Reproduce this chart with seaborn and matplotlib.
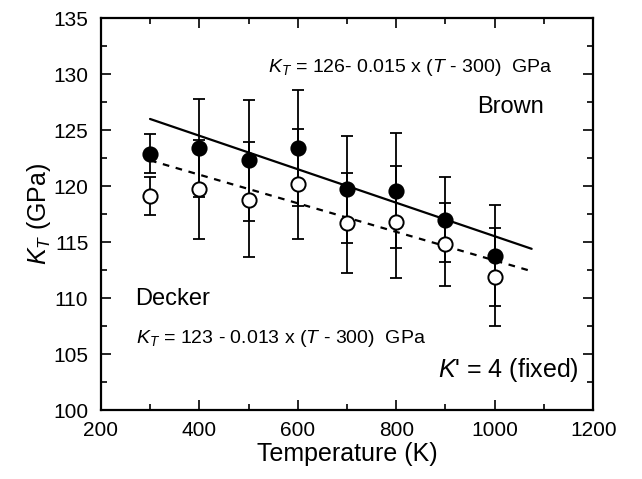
import numpy as np
import pandas as pd
import matplotlib
matplotlib.use("Agg")
import matplotlib.pyplot as plt
import seaborn as sns
from matplotlib.ticker import MultipleLocator

# Data
temps = [300, 400, 500, 600, 700, 800, 900, 1000]
brown_kt = [122.9, 123.4, 122.3, 123.4, 119.7, 119.6, 117.0, 113.8]
brown_err = [1.75, 4.4, 5.4, 5.2, 4.75, 5.15, 3.8, 4.5]
decker_kt = [119.1, 119.7, 118.8, 120.2, 116.7, 116.8, 114.8, 111.9]
decker_err = [1.7, 4.4, 5.1, 4.9, 4.5, 5.0, 3.7, 4.35]

fit_t = [300, 1075]
brown_fit = [126.0, 114.4]
decker_fit = [122.3, 112.4]

df = pd.DataFrame({"T": temps * 2,
                   "KT": brown_kt + decker_kt,
                   "err": brown_err + decker_err,
                   "set": ["Brown"] * 8 + ["Decker"] * 8})
fits = pd.DataFrame({"T": fit_t * 2,
                     "KT": brown_fit + decker_fit,
                     "set": ["Brown"] * 2 + ["Decker"] * 2})

sns.set_style("ticks")
plt.rcParams['font.family'] = ['Liberation Sans', 'DejaVu Sans']
plt.rcParams['mathtext.fontset'] = 'custom'
plt.rcParams['mathtext.it'] = 'Liberation Sans:italic'
plt.rcParams['mathtext.rm'] = 'Liberation Sans'
plt.rcParams['text.color'] = 'black'
plt.rcParams['axes.labelcolor'] = 'black'
plt.rcParams['xtick.color'] = 'black'
plt.rcParams['ytick.color'] = 'black'

fig = plt.figure(figsize=(6.42, 4.79), dpi=100)
ax = fig.add_axes([0.157, 0.144, 0.767, 0.818])

# fitted lines
sns.lineplot(data=fits[fits.set == "Brown"], x="T", y="KT", color="black",
             linewidth=1.6, ax=ax, zorder=2)
sns.lineplot(data=fits[fits.set == "Decker"], x="T", y="KT", color="black",
             linewidth=1.6, ax=ax, zorder=2)
ax.lines[1].set_dashes([3, 3])

# error bars
for name in ["Brown", "Decker"]:
    d = df[df.set == name]
    ax.errorbar(d["T"], d["KT"], yerr=d["err"], fmt="none", ecolor="black",
                elinewidth=1.3, capsize=4.5, capthick=1.3, zorder=3)

# points
sns.scatterplot(data=df[df.set == "Decker"], x="T", y="KT", marker="o", s=105,
                facecolor="white", edgecolor="black", linewidth=1.4, ax=ax, zorder=4)
sns.scatterplot(data=df[df.set == "Brown"], x="T", y="KT", marker="o", s=105,
                color="black", edgecolor="black", linewidth=1.4, ax=ax, zorder=5)

ax.set_xlim(200, 1200)
ax.set_ylim(100, 135)
ax.xaxis.set_major_locator(MultipleLocator(200))
ax.xaxis.set_minor_locator(MultipleLocator(100))
ax.yaxis.set_major_locator(MultipleLocator(5))
ax.yaxis.set_minor_locator(MultipleLocator(2.5))
ax.tick_params(which="both", direction="in", top=True, right=True, width=1.2,
               labelsize=15, colors="black")
ax.tick_params(which="major", length=7)
ax.tick_params(which="minor", length=4)
ax.tick_params(axis="x", pad=8)
ax.tick_params(axis="y", pad=9)
for sp in ax.spines.values():
    sp.set_linewidth(1.6)
    sp.set_color("black")

ax.set_xlabel("Temperature (K)", fontsize=18, labelpad=1)
ax.set_ylabel(r"$K_T$ (GPa)", fontsize=18, labelpad=0)

ax.text(539, 130.2, r"$K_T$ = 126- 0.015 x ($T$ - 300)  GPa", fontsize=14,
        ha="left", va="baseline")
ax.text(964, 126.5, "Brown", fontsize=17, ha="left", va="baseline")
ax.text(269, 109.4, "Decker", fontsize=17, ha="left", va="baseline")
ax.text(271, 106.0, r"$K_T$ = 123 - 0.013 x ($T$ - 300)  GPa", fontsize=14,
        ha="left", va="baseline")
ax.text(885, 102.95, r"$K$' = 4 (fixed)", fontsize=18, ha="left", va="baseline")

fig.savefig("out.png", dpi=100)
